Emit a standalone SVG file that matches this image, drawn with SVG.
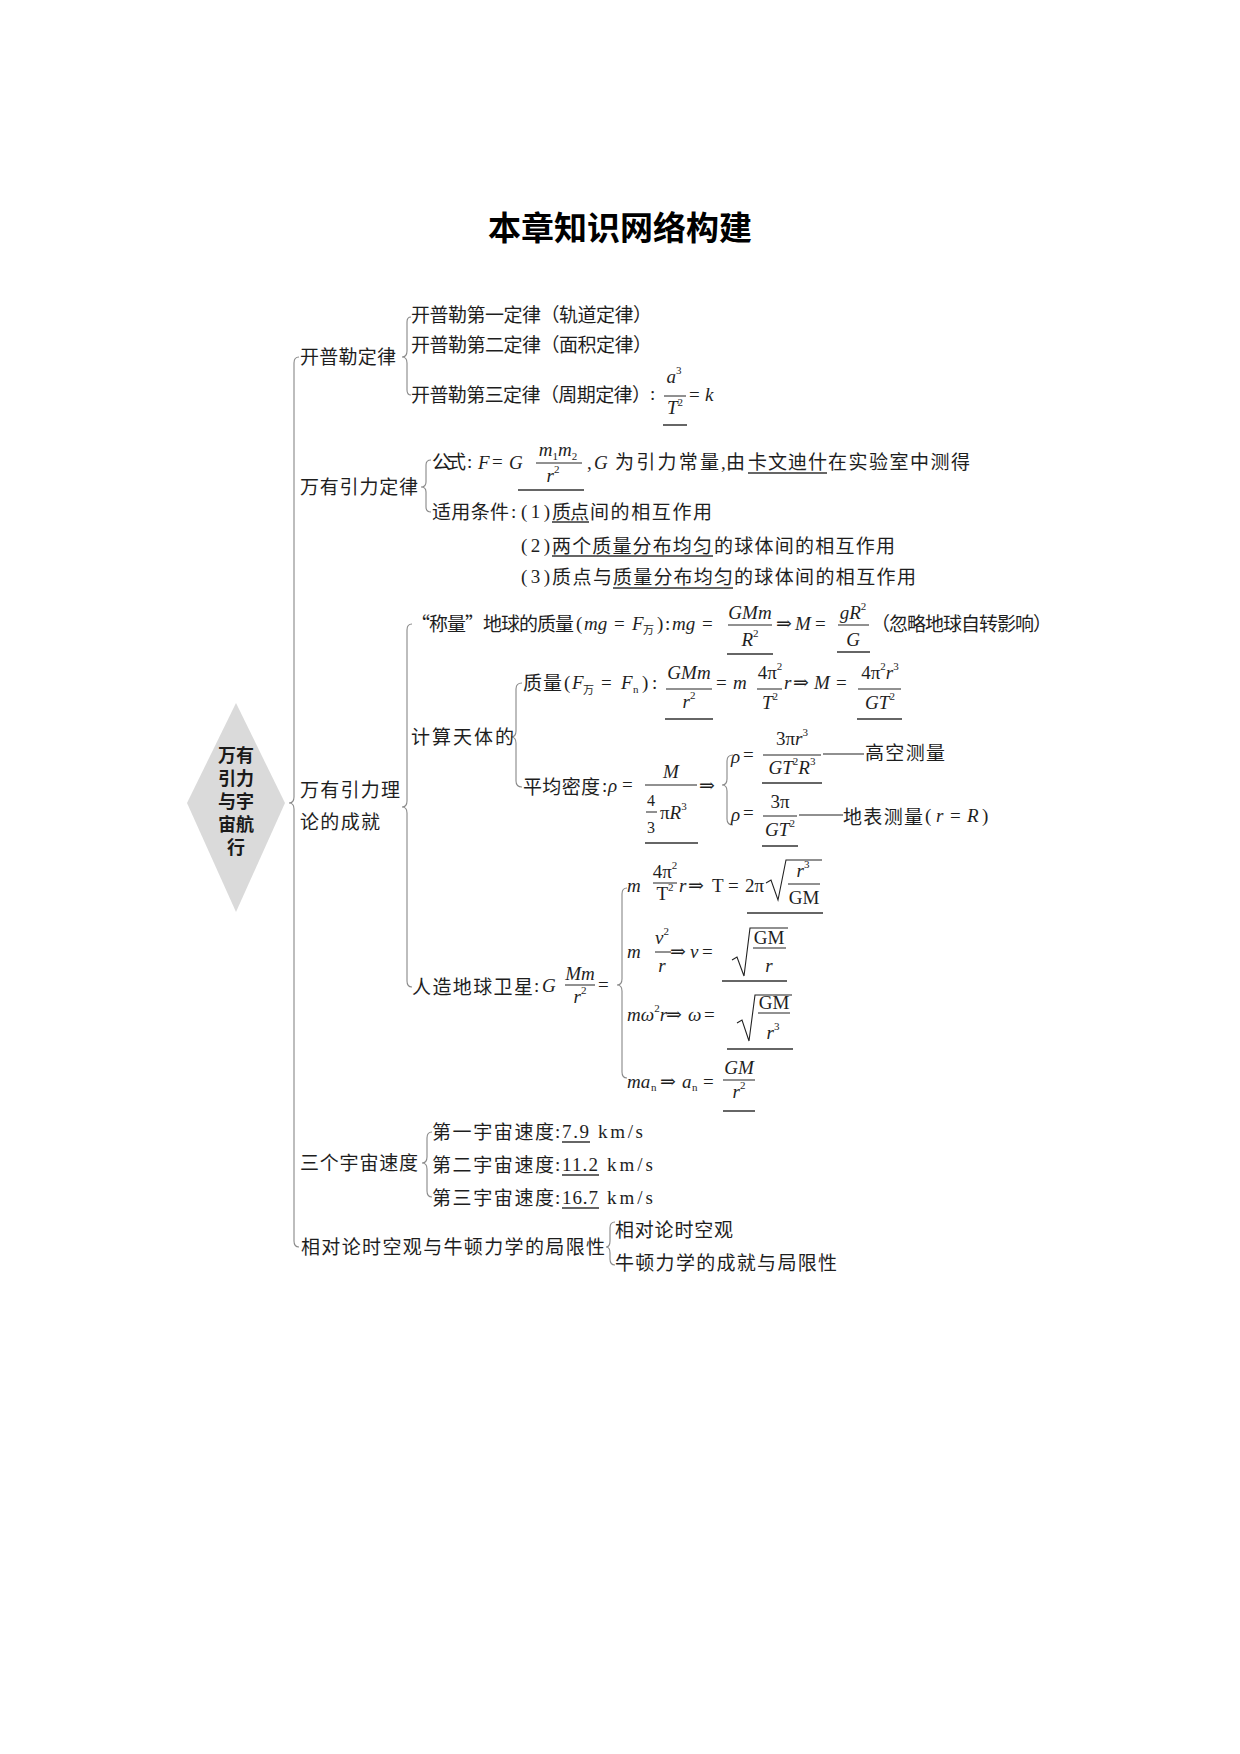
<svg xmlns="http://www.w3.org/2000/svg" width="1240" height="1754" viewBox="0 0 1240 1754">
<style>
.z{font-family:"Noto Sans CJK SC","Noto Sans CJK JP",sans-serif;font-size:19px;fill:#1e1e1e}
.i{font-family:"Liberation Serif","DejaVu Serif",serif;font-style:italic;font-size:19px;fill:#1e1e1e}
.u{font-family:"Liberation Serif","DejaVu Serif",serif;font-size:19px;fill:#1e1e1e}
.s{font-size:11px;font-style:normal}
.m{text-anchor:middle}
.bar{stroke:#222;stroke-width:1}
.ul{stroke:#333;stroke-width:1.5}
.br{fill:none;stroke:#888;stroke-width:1.1}
.t{font-family:"Noto Sans CJK SC",sans-serif;font-weight:bold;font-size:33px;fill:#000}
.h{font-family:"Noto Sans CJK SC",sans-serif;font-weight:bold;font-size:18px;text-anchor:middle;fill:#1a1a1a}
</style>
<rect width="1240" height="1754" fill="#fff"/>
<text class="t" x="488" y="240" textLength="264">本章知识网络构建</text>

<g id="connectors">
<path class="br" d="M299,357 Q294,357 294,363 L294,797 Q294,803 289,803 Q294,803 294,809 L294,1241 Q294,1247 299,1247"/>
<path class="br" d="M411,317 Q407,317 407,322 L407,351 Q407,357 402,357 Q407,357 407,363 L407,390 Q407,395 411,395"/>
<path class="br" d="M431,460 Q426,460 426,465 L426,482 Q426,487 421,487 Q426,487 426,492 L426,507 Q426,512 431,512"/>
<path class="br" d="M412,624 Q407,624 407,630 L407,801 Q407,807 402,807 Q407,807 407,813 L407,981 Q407,987 412,987"/>
<path class="br" d="M522,683 Q516,683 516,689 L516,731 Q516,737 511,737 Q516,737 516,743 L516,781 Q516,787 522,787"/>
<path class="br" d="M733,755 Q727,755 727,761 L727,779 Q727,785 722,785 Q727,785 727,791 L727,819 Q727,825 733,825"/>
<path class="br" d="M627,888 Q622,888 622,894 L622,979 Q622,985 617,985 Q622,985 622,991 L622,1072 Q622,1078 627,1078"/>
<path class="br" d="M432,1132 Q427,1132 427,1138 L427,1157 Q427,1163 422,1163 Q427,1163 427,1169 L427,1191 Q427,1197 432,1197"/>
<path class="br" d="M615,1222 Q610,1222 610,1228 L610,1241 Q610,1247 606,1247 Q610,1247 610,1253 L610,1259 Q610,1265 615,1265"/>
</g>

<g id="n-root">
<polygon points="236,703 285,803 236,912 187,803" fill="#dadada"/>
<text class="h" x="236" y="762">万有</text>
<text class="h" x="236" y="785">引力</text>
<text class="h" x="236" y="808">与宇</text>
<text class="h" x="236" y="831">宙航</text>
<text class="h" x="236" y="854">行</text>
</g>

<g id="n-kepler">
<text class="z" x="300" y="364" textLength="96">开普勒定律</text>
<text class="z" x="411" y="322" textLength="241">开普勒第一定律（轨道定律）</text>
<text class="z" x="411" y="352" textLength="241">开普勒第二定律（面积定律）</text>
<text class="z" x="411" y="402" textLength="240">开普勒第三定律（周期定律）</text>
<text class="u" x="650" y="400">:</text>
<text class="i m" x="674" y="383">a<tspan class="s" dy="-9">3</tspan></text>
<line class="bar" x1="664" y1="396" x2="686" y2="396"/>
<text class="i m" x="675" y="414">T<tspan class="s" dy="-8">2</tspan></text>
<line class="ul" x1="663" y1="425" x2="687" y2="425"/>
<text class="u" x="689" y="401">=</text>
<text class="i" x="705" y="401">k</text>
</g>

<g id="n-gravity-law">
<text class="z" x="300" y="494" textLength="118">万有引力定律</text>
<text class="z" x="432" y="469" textLength="34">公式</text>
<text class="u" x="467" y="468">:</text>
<text class="i" x="478" y="469">F</text>
<text class="u" x="492" y="468">=</text>
<text class="i" x="509" y="469">G</text>
<text class="i m" x="558" y="456">m<tspan class="s" dy="4">1</tspan><tspan dy="-4">m</tspan><tspan class="s" dy="4">2</tspan></text>
<line class="bar" x1="536" y1="463" x2="582" y2="463"/>
<text class="i m" x="553" y="482">r<tspan class="s" dy="-9">2</tspan></text>
<line class="ul" x1="518" y1="490" x2="584" y2="490"/>
<text class="u" x="587" y="469">,</text>
<text class="i" x="594" y="469">G</text>
<text class="z" x="615" y="469" textLength="104">为引力常量</text>
<text class="u" x="721" y="469">,</text>
<text class="z" x="726" y="469" textLength="20">由</text>
<text class="z" x="748" y="469" textLength="79">卡文迪什</text>
<line class="ul" x1="748" y1="473" x2="827" y2="473"/>
<text class="z" x="828" y="469" textLength="142">在实验室中测得</text>

<text class="z" x="432" y="519" textLength="77">适用条件</text>
<text class="u" x="511" y="518">:</text>
<text class="u" x="521" y="518" textLength="29">(1)</text>
<text class="z" x="552" y="519" textLength="37">质点</text>
<line class="ul" x1="552" y1="522" x2="589" y2="522"/>
<text class="z" x="590" y="519" textLength="122">间的相互作用</text>

<text class="u" x="521" y="552" textLength="29">(2)</text>
<text class="z" x="552" y="553" textLength="160">两个质量分布均匀</text>
<line class="ul" x1="552" y1="556" x2="713" y2="556"/>
<text class="z" x="714" y="553" textLength="181">的球体间的相互作用</text>

<text class="u" x="521" y="583" textLength="29">(3)</text>
<text class="z" x="552" y="584" textLength="60">质点与</text>
<text class="z" x="613" y="584" textLength="120">质量分布均匀</text>
<line class="ul" x1="613" y1="588" x2="733" y2="588"/>
<text class="z" x="734" y="584" textLength="182">的球体间的相互作用</text>
</g>

<g id="n-achievements">
<text class="z" x="300" y="797" textLength="100">万有引力理</text>
<text class="z" x="300" y="829" textLength="80">论的成就</text>
</g>

<g id="n-weigh-earth">
<text class="z" x="411" y="631" textLength="163">“称量”地球的质量</text>
<text class="u" x="576" y="630">(</text>
<text class="i" x="584" y="630">mg</text>
<text class="u" x="614" y="630">=</text>
<text class="i" x="632" y="630">F</text>
<text class="z" x="643" y="634" style="font-size:11px">万</text>
<text class="u" x="657" y="630">)</text>
<text class="u" x="665" y="630">:</text>
<text class="i" x="672" y="630">mg</text>
<text class="u" x="702" y="630">=</text>
<text class="i m" x="750" y="619">GMm</text>
<line class="bar" x1="728" y1="625" x2="772" y2="625"/>
<text class="i m" x="750" y="646">R<tspan class="s" dy="-9">2</tspan></text>
<line class="ul" x1="727" y1="654" x2="773" y2="654"/>
<text class="u" x="776" y="630">⇒</text>
<text class="i" x="795" y="630">M</text>
<text class="u" x="815" y="630">=</text>
<text class="i m" x="853" y="619">gR<tspan class="s" dy="-9">2</tspan></text>
<line class="bar" x1="838" y1="625" x2="869" y2="625"/>
<text class="i m" x="853" y="646">G</text>
<line class="ul" x1="837" y1="652" x2="870" y2="652"/>
<text class="z" x="871" y="631" textLength="181">（忽略地球自转影响）</text>
</g>

<g id="n-celestial">
<text class="z" x="411" y="744" textLength="103">计算天体的</text>
</g>

<g id="n-mass">
<text class="z" x="523" y="690" textLength="39">质量</text>
<text class="u" x="564" y="689">(</text>
<text class="i" x="572" y="689">F</text>
<text class="z" x="583" y="694" style="font-size:11px">万</text>
<text class="u" x="601" y="689">=</text>
<text class="i" x="621" y="689">F</text>
<text class="u s" x="633" y="693">n</text>
<text class="u" x="642" y="689">)</text>
<text class="u" x="652" y="689">:</text>
<text class="i m" x="689" y="679">GMm</text>
<line class="bar" x1="666" y1="689" x2="712" y2="689"/>
<text class="i m" x="689" y="708">r<tspan class="s" dy="-9">2</tspan></text>
<line class="ul" x1="665" y1="719" x2="713" y2="719"/>
<text class="u" x="716" y="689">=</text>
<text class="i" x="733" y="689">m</text>
<text class="u m" x="770" y="679">4π<tspan class="s" dy="-9">2</tspan></text>
<line class="bar" x1="757" y1="689" x2="782" y2="689"/>
<text class="i m" x="770" y="709">T<tspan class="s" dy="-9">2</tspan></text>
<text class="i" x="784" y="689">r</text>
<text class="u" x="793" y="689">⇒</text>
<text class="i" x="814" y="689">M</text>
<text class="u" x="836" y="689">=</text>
<text class="u m" x="880" y="679">4π<tspan class="s" dy="-9">2</tspan><tspan class="i" dy="9">r</tspan><tspan class="s" dy="-9">3</tspan></text>
<line class="bar" x1="858" y1="689" x2="901" y2="689"/>
<text class="i m" x="880" y="709">GT<tspan class="s" dy="-9">2</tspan></text>
<line class="ul" x1="857" y1="719" x2="902" y2="719"/>
</g>

<g id="n-density">
<text class="z" x="523" y="794" textLength="77">平均密度</text>
<text class="u" x="602" y="792">:</text>
<text class="i" x="608" y="792">ρ</text>
<text class="u" x="622" y="791">=</text>
<text class="i m" x="671" y="778">M</text>
<line class="bar" x1="645" y1="785" x2="697" y2="785"/>
<text class="u m" x="651" y="806" style="font-size:16px">4</text>
<line class="bar" x1="646" y1="812" x2="657" y2="812"/>
<text class="u m" x="651" y="833" style="font-size:16px">3</text>
<text class="u" x="660" y="819">π<tspan class="i">R</tspan><tspan class="s" dy="-9">3</tspan></text>
<line class="ul" x1="645" y1="843" x2="698" y2="843"/>
<text class="u" x="699" y="792">⇒</text>

<text class="i" x="731" y="763">ρ</text>
<text class="u" x="743" y="761">=</text>
<text class="u m" x="792" y="745">3π<tspan class="i">r</tspan><tspan class="s" dy="-9">3</tspan></text>
<line class="bar" x1="763" y1="755" x2="821" y2="755"/>
<text class="i m" x="792" y="774">GT<tspan class="s" dy="-9">2</tspan><tspan dy="9">R</tspan><tspan class="s" dy="-9">3</tspan></text>
<line class="ul" x1="762" y1="783" x2="822" y2="783"/>
<line x1="823" y1="754" x2="864" y2="754" stroke="#222" stroke-width="1.2"/>
<text class="z" x="865" y="760" textLength="80">高空测量</text>

<text class="i" x="731" y="821">ρ</text>
<text class="u" x="743" y="819">=</text>
<text class="u m" x="780" y="808">3π</text>
<line class="bar" x1="763" y1="816" x2="797" y2="816"/>
<text class="i m" x="780" y="836">GT<tspan class="s" dy="-9">2</tspan></text>
<line class="ul" x1="762" y1="846" x2="798" y2="846"/>
<line x1="799" y1="815" x2="843" y2="815" stroke="#222" stroke-width="1.2"/>
<text class="z" x="843" y="824" textLength="80">地表测量</text>
<text class="u" x="925" y="822">(</text>
<text class="i" x="936" y="822">r</text>
<text class="u" x="950" y="822">=</text>
<text class="i" x="967" y="822">R</text>
<text class="u" x="982" y="822">)</text>
</g>

<g id="n-satellite">
<text class="z" x="412" y="994" textLength="121">人造地球卫星</text>
<text class="u" x="534" y="992">:</text>
<text class="i" x="542" y="992">G</text>
<text class="i m" x="580" y="980">Mm</text>
<line class="bar" x1="565" y1="985" x2="595" y2="985"/>
<text class="i m" x="580" y="1003">r<tspan class="s" dy="-9">2</tspan></text>
<text class="u" x="598" y="991">=</text>
</g>

<g id="n-sat-T">
<text class="i" x="627" y="892">m</text>
<text class="u m" x="665" y="878">4π<tspan class="s" dy="-9">2</tspan></text>
<line class="bar" x1="653" y1="883" x2="677" y2="883"/>
<text class="u m" x="665" y="900">T<tspan class="s" dy="-9">2</tspan></text>
<text class="i" x="679" y="892">r</text>
<text class="u" x="688" y="892">⇒</text>
<text class="u" x="712" y="892">T</text>
<text class="u" x="728" y="892">=</text>
<text class="u" x="745" y="892">2π</text>
<path d="M766,883 L771,880 L778,900 L786,860 L822,860" fill="none" stroke="#222" stroke-width="1.1"/>
<text class="i m" x="803" y="877">r<tspan class="s" dy="-9">3</tspan></text>
<line class="bar" x1="788" y1="884" x2="820" y2="884"/>
<text class="u m" x="804" y="904">GM</text>
<line class="ul" x1="747" y1="913" x2="823" y2="913"/>
</g>

<g id="n-sat-v">
<text class="i" x="627" y="958">m</text>
<text class="i m" x="662" y="944">v<tspan class="s" dy="-9">2</tspan></text>
<line class="bar" x1="655" y1="952" x2="671" y2="952"/>
<text class="i m" x="662" y="972">r</text>
<text class="u" x="670" y="958">⇒</text>
<text class="i" x="690" y="958">v</text>
<text class="u" x="702" y="958">=</text>
<path d="M732,960 L737,957 L744,976 L750,928 L788,928" fill="none" stroke="#222" stroke-width="1.1"/>
<text class="u m" x="769" y="944">GM</text>
<line class="bar" x1="753" y1="948" x2="786" y2="948"/>
<text class="i m" x="769" y="972">r</text>
<line class="ul" x1="722" y1="981" x2="787" y2="981"/>
</g>

<g id="n-sat-w">
<text class="i" x="627" y="1021">mω<tspan class="s" dy="-9">2</tspan><tspan dy="9">r</tspan></text>
<text class="u" x="666" y="1021">⇒</text>
<text class="i" x="688" y="1021">ω</text>
<text class="u" x="704" y="1021">=</text>
<path d="M737,1023 L742,1020 L749,1041 L755,995 L792,995" fill="none" stroke="#222" stroke-width="1.1"/>
<text class="u m" x="774" y="1009">GM</text>
<line class="bar" x1="758" y1="1013" x2="790" y2="1013"/>
<text class="i m" x="773" y="1039">r<tspan class="s" dy="-9">3</tspan></text>
<line class="ul" x1="727" y1="1049" x2="793" y2="1049"/>
</g>

<g id="n-sat-a">
<text class="i" x="627" y="1088">ma</text>
<text class="u s" x="651" y="1091">n</text>
<text class="u" x="660" y="1088">⇒</text>
<text class="i" x="682" y="1088">a</text>
<text class="u s" x="692" y="1091">n</text>
<text class="u" x="703" y="1088">=</text>
<text class="i m" x="739" y="1074">GM</text>
<line class="bar" x1="723" y1="1080" x2="755" y2="1080"/>
<text class="i m" x="739" y="1098">r<tspan class="s" dy="-9">2</tspan></text>
<line class="ul" x1="723" y1="1111" x2="755" y2="1111"/>
</g>

<g id="n-cosmic">
<text class="z" x="300" y="1170" textLength="118">三个宇宙速度</text>
<text class="z" x="432" y="1139" textLength="122">第一宇宙速度</text>
<text class="u" x="555" y="1138">:</text>
<text class="u" x="562" y="1138" textLength="27">7.9</text>
<line class="ul" x1="562" y1="1142" x2="590" y2="1142"/>
<text class="u" x="598" y="1138" textLength="45">km/s</text>
<text class="z" x="432" y="1172" textLength="122">第二宇宙速度</text>
<text class="u" x="555" y="1171">:</text>
<text class="u" x="562" y="1171" textLength="36">11.2</text>
<line class="ul" x1="562" y1="1175" x2="599" y2="1175"/>
<text class="u" x="607" y="1171" textLength="46">km/s</text>
<text class="z" x="432" y="1205" textLength="122">第三宇宙速度</text>
<text class="u" x="555" y="1204">:</text>
<text class="u" x="562" y="1204" textLength="36">16.7</text>
<line class="ul" x1="562" y1="1208" x2="599" y2="1208"/>
<text class="u" x="607" y="1204" textLength="46">km/s</text>
</g>

<g id="n-relativity">
<text class="z" x="301" y="1254" textLength="304">相对论时空观与牛顿力学的局限性</text>
<text class="z" x="615" y="1237" textLength="118">相对论时空观</text>
<text class="z" x="615" y="1270" textLength="222">牛顿力学的成就与局限性</text>
</g>
</svg>
